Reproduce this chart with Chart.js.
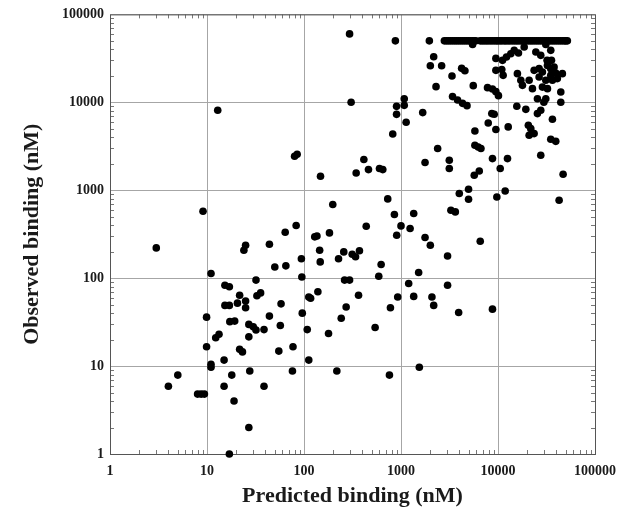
<!DOCTYPE html>
<html>
<head>
<meta charset="utf-8">
<script src="https://cdn.jsdelivr.net/npm/chart.js@4.4.0/dist/chart.umd.min.js"></script>
<style>
  html, body { margin: 0; padding: 0; background: #fff; }
  #bindingChart { display: block; }
</style>
</head>
<body>
<canvas id="bindingChart" width="630" height="515"></canvas>
<script>
// Predicted vs observed binding (nM)
const predictedNM = [
  // low / left cluster
  9.9, 9.9, 11, 11, 5, 4, 8, 8.7, 9.4, 15, 18, 15, 19, 27, 17, 27.6, 38.7, 21.7, 23.2, 12.3,
  13.3, 27, 27, 30, 32, 38.7, 17.2, 19.3, 15.3, 17, 20.6, 25, 25, 21.7, 15.3, 17, 32, 32.7, 35.7, 58,
  44, 24, 25, 50, 65, 64, 83, 94, 95, 80, 85, 148, 198, 129, 136, 183, 145, 147, 227, 257,
  262, 295, 112, 117, 139, 96, 44, 57, 108, 272, 242, 179, 77, 55, 112, 76, 218, 9.1, 3, 11,
  12.9,
  // middle
  365, 541, 778, 925, 760, 1545, 306, 900, 1080, 1080, 900, 1130, 822, 414, 345, 462, 600, 649, 730, 855,
  1000, 1241, 1352, 903, 438, 314, 340, 373, 624, 590, 1200, 1352, 1674, 1770, 2387, 3147, 3147, 5780, 6250, 6670,
  8770, 12530, 10540, 5690, 6410, 3990, 4970, 4970, 9730, 11860, 3270, 3630, 6560, 3020, 3020, 3930, 8770, 1770, 2006, 1520,
  2084, 2173, 27600, 46900, 42660, 5780, 7930, 9510, 12740, 15630, 19360, 25500, 27600, 36400, 20560, 21780, 20940, 23570, 35000, 39400,
  8630, 9140, 3400, 3830, 4310, 4790, 7800, 8770, 9510, 10110, 1960, 875, 5470, 2173, 2006, 2624, 3355, 4220, 4560, 2297,
  5560, 295,
  // upper right
  11130, 12220, 13550, 14690, 16260, 18620, 24550, 27600, 35000, 9510, 9510, 10940, 11300, 32060, 35600, 23570, 26540, 28700, 32350, 35000,
  37870, 46100, 35000, 39400, 26540, 31100, 36400, 40900, 15850, 17200, 17870, 20940, 22650, 28700, 32350, 44400, 44400, 25500, 31100, 29700,
  31100,
  // capped at 50000
  2800, 2940, 3080, 3230, 3390, 3560, 3730, 3910, 4100, 4300, 4510, 4730, 4960, 5200, 5460, 5680, 5900,
  6560, 6870, 7200, 7550, 7900, 8300, 8700, 9150, 9600, 10000, 10500, 11000, 11600, 12100, 12700, 13300,
  14000, 14700, 15400, 16100, 16900, 17700, 18600, 19500, 20500, 21500, 22500, 23600, 24800, 26000, 27300,
  28600, 30000, 31500, 33000, 34600, 36300, 38100, 40000, 42000, 44000, 46200, 48400, 50000, 51900
];

const observedNM = [
  36, 16.6, 10.5, 9.7, 7.9, 5.9, 4.8, 4.8, 4.8, 11.7, 7.9, 5.9, 4, 2, 1, 8.8, 5.9, 15.5, 14.5, 21,
  23, 21.5, 29.8, 28, 25.7, 26, 32, 32.5, 49, 49, 52, 55, 46, 64, 83, 80, 95, 63, 68, 51,
  243, 208, 237, 134, 138, 333, 397, 166, 103, 2435, 2566, 1443, 688, 295, 302, 327, 208, 153, 166, 199,
  95, 95, 61, 59, 70, 40, 37, 29, 26, 47, 35, 23.5, 16.6, 14.8, 11.7, 8.8, 8.8, 577, 221, 113,
  8110,
  64, 27.5, 46, 61, 7.9, 9.7, 10000, 9000, 11000, 9240, 7300, 5930, 4365, 2233, 1573, 1718, 1765, 1718, 797, 529,
  393, 367, 543, 308, 390, 187, 175, 205, 143, 105, 87, 62, 7640, 2065, 2978, 2193, 1765, 3245, 3107, 2978,
  2290, 2290, 1765, 1480, 1657, 917, 1026, 790, 839, 982, 593, 567, 263, 179, 83, 40.7, 44.4, 290, 237, 116,
  61, 49, 2500, 1520, 770, 4720, 5820, 4900, 5250, 9010, 8320, 7440, 8110, 6410, 5480, 5020, 4220, 4410, 3800, 3600,
  7440, 7310, 11610, 10620, 9740, 9170, 14690, 14170, 13220, 11910, 50000, 50000, 45600, 33040, 26100, 26100, 19900, 24330, 22900, 15080,
  15480, 60000,
  30000, 32730, 35740, 38990, 36320, 42530, 37300, 34200, 39000, 31600, 23100, 23550, 20270, 30000, 30000, 23100, 24150, 22100, 26300, 24150,
  25200, 21200, 20270, 21530, 19400, 17800, 17800, 18600, 21200, 17800, 15600, 17800, 14300, 14900, 14300, 13100, 10000, 11000, 11000, 10000,
  45600,
  50000, 50000, 50000, 50000, 50000, 50000, 50000, 50000, 50000, 50000, 50000, 50000, 50000, 50000, 50000, 50000, 50000,
  50000, 50000, 50000, 50000, 50000, 50000, 50000, 50000, 50000, 50000, 50000, 50000, 50000, 50000, 50000, 50000,
  50000, 50000, 50000, 50000, 50000, 50000, 50000, 50000, 50000, 50000, 50000, 50000, 50000, 50000, 50000,
  50000, 50000, 50000, 50000, 50000, 50000, 50000, 50000, 50000, 50000, 50000, 50000, 50000, 50000
];

const decadeTicks = [1, 10, 100, 1000, 10000, 100000];
const minorSteps = [2, 3, 4, 5, 6, 7, 8, 9];

const serif = '"Liberation Serif", "Times New Roman", "DejaVu Serif", serif';

// frame round the plot plus the small inward minor ticks on all four sides
const frameTicks = {
  id: 'frameTicks',
  beforeDatasetsDraw(chart) {
    const { ctx, chartArea: a, scales } = chart;
    ctx.save();
    ctx.strokeStyle = '#777';
    ctx.lineWidth = 1;
    ctx.beginPath();
    for (const d of decadeTicks.slice(0, -1)) {
      for (const k of minorSteps) {
        const x = Math.round(scales.x.getPixelForValue(d * k)) + 0.5;
        ctx.moveTo(x, a.bottom); ctx.lineTo(x, a.bottom - 4);
        ctx.moveTo(x, a.top); ctx.lineTo(x, a.top + 4);
        const y = Math.round(scales.y.getPixelForValue(d * k)) + 0.5;
        ctx.moveTo(a.left, y); ctx.lineTo(a.left + 4, y);
        ctx.moveTo(a.right, y); ctx.lineTo(a.right - 4, y);
      }
    }
    ctx.stroke();
    ctx.strokeStyle = '#555';
    ctx.strokeRect(a.left + 0.5, a.top + 0.5, a.right - a.left, a.bottom - a.top);
    ctx.restore();
  }
};

const points = predictedNM.map((x, i) => ({ x, y: observedNM[i] }));

new Chart(document.getElementById('bindingChart'), {
  type: 'scatter',
  data: {
    datasets: [{
      data: points,
      backgroundColor: '#000',
      borderWidth: 0,
      pointRadius: 3.8,
      pointHoverRadius: 3.8,
      clip: false
    }]
  },
  options: {
    responsive: false,
    animation: false,
    layout: { padding: { top: 14, right: 35, left: 0, bottom: 0 } },
    plugins: { legend: { display: false }, tooltip: { enabled: false } },
    scales: {
      x: {
        type: 'logarithmic',
        min: 1,
        max: 100000,
        afterBuildTicks: s => { s.ticks = decadeTicks.map(v => ({ value: v })); },
        afterFit: s => { s.height = 61; },
        grid: { color: '#a6a6a6', drawTicks: false },
        border: { display: false },
        ticks: {
          autoSkip: false,
          maxRotation: 0,
          padding: 9,
          color: '#1a1a1a',
          font: { family: serif, weight: 'bold', size: 14 },
          callback: v => String(v)
        },
        title: {
          display: true,
          text: 'Predicted binding (nM)',
          color: '#1a1a1a',
          font: { family: serif, weight: 'bold', size: 22 },
          padding: { top: 0, bottom: 5 }
        }
      },
      y: {
        type: 'logarithmic',
        min: 1,
        max: 100000,
        afterBuildTicks: s => { s.ticks = decadeTicks.map(v => ({ value: v })); },
        afterFit: s => { s.width = 110; },
        grid: { color: '#a6a6a6', drawTicks: false },
        border: { display: false },
        ticks: {
          autoSkip: false,
          padding: 6,
          color: '#1a1a1a',
          font: { family: serif, weight: 'bold', size: 14 },
          callback: v => String(v)
        },
        title: {
          display: true,
          text: 'Observed binding (nM)',
          color: '#1a1a1a',
          font: { family: serif, weight: 'bold', size: 22 },
          padding: { top: 19, bottom: 0 }
        }
      }
    }
  },
  plugins: [frameTicks]
});
</script>
</body>
</html>
